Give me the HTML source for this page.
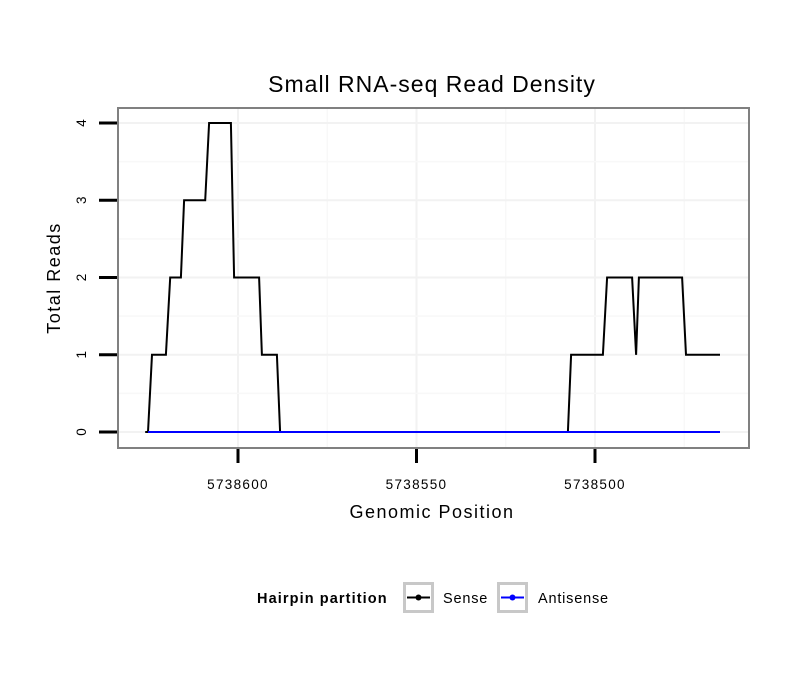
<!DOCTYPE html>
<html><head><meta charset="utf-8"><style>
body{margin:0;background:#fff;}
svg{display:block;font-family:"Liberation Sans",Arial,sans-serif;}
</style></head><body>
<svg id="chart" width="810" height="690" viewBox="0 0 810 690">
<text x="432" y="92" font-size="23" letter-spacing="1" text-anchor="middle">Small RNA-seq Read Density</text>
<rect x="118" y="108" width="631" height="340" fill="#fff"/>
<g id="grid"></g>
<g id="series"></g>
<rect x="118" y="108" width="631" height="340" fill="none" stroke="#808080" stroke-width="2"/>
<g id="axes"></g>
<text x="432" y="518" font-size="18" letter-spacing="1.5" text-anchor="middle">Genomic Position</text>
<text transform="translate(60,278) rotate(-90)" font-size="18" letter-spacing="1.5" text-anchor="middle">Total Reads</text>
<g>
<text x="257" y="603" font-size="14.5" letter-spacing="1.1" font-weight="bold">Hairpin partition</text>
<g>
<rect x="404.5" y="583.5" width="28" height="28" fill="#fff" stroke="#c8c8c8" stroke-width="3"/>
<line x1="407" y1="597.5" x2="430" y2="597.5" stroke="#000" stroke-width="2"/>
<circle cx="418.5" cy="597.5" r="3" fill="#000"/>
<text x="443" y="603" font-size="14.5" letter-spacing="0.8">Sense</text>
</g>
<g>
<rect x="498.5" y="583.5" width="28" height="28" fill="#fff" stroke="#c8c8c8" stroke-width="3"/>
<line x1="501" y1="597.5" x2="524" y2="597.5" stroke="#0000ff" stroke-width="2"/>
<circle cx="512.5" cy="597.5" r="3" fill="#0000ff"/>
<text x="538" y="603" font-size="14.5" letter-spacing="0.8">Antisense</text>
</g>
</g>
</svg>
<script>
const BASE = 5738000;
const senseX = [626.0,625.2,624.1,620.2,619.0,616.0,615.1,609.2,608.1,602.0,601.1,594.1,593.3,589.1,588.2,507.6,506.7,497.8,496.6,489.6,488.5,487.7,475.6,474.5,465.0];
const senseY = [0,0,1,1,2,2,3,3,4,4,2,2,1,1,0,0,1,1,2,2,1,2,2,1,1];
const antiX = [625.2,465.0];
const antiY = [0,0];
const xTicks = [600,550,500];
const xTickLabels = ["5738600","5738550","5738500"];
const yTicks = [0,1,2,3,4];
const yTickLabels = ["0","1","2","3","4"];

const NS = "http://www.w3.org/2000/svg";
function xs(v){ return 238 + (600 - v) * 3.57; }
function ys(v){ return 432 - v * 77.25; }
function mk(tag, attrs, parent){
  const e = document.createElementNS(NS, tag);
  for (const k in attrs) e.setAttribute(k, attrs[k]);
  parent.appendChild(e); return e;
}
const grid = document.getElementById('grid');
const axes = document.getElementById('axes');
const series = document.getElementById('series');
for (let i = 0; i < xTicks.length; i++) {
  const g1 = mk('line', {x1:xs(xTicks[i]), x2:xs(xTicks[i]), y1:109, y2:447, stroke:'#f2f2f2', 'stroke-width':2}, grid);
  
  
  const m = xTicks[i] - 25;
  const g2 = mk('line', {x1:xs(m), x2:xs(m), y1:109, y2:447, stroke:'#f8f8f8', 'stroke-width':1.5}, grid);
  
  
}
for (let i = 0; i < yTicks.length; i++) {
  const g1 = mk('line', {x1:119, x2:748, y1:ys(yTicks[i]), y2:ys(yTicks[i]), stroke:'#f2f2f2', 'stroke-width':2}, grid);
  
  
  if (i < yTicks.length - 1) {
    const m = yTicks[i] + 0.5;
    const g2 = mk('line', {x1:119, x2:748, y1:ys(m), y2:ys(m), stroke:'#f8f8f8', 'stroke-width':1.5}, grid);
    
    
  }
}
for (let i = 0; i < xTicks.length; i++) {
  const t = mk('line', {x1:xs(xTicks[i]), x2:xs(xTicks[i]), y1:449, y2:463, stroke:'#000', 'stroke-width':3}, axes);
  
  
  const l = mk('text', {x:xs(xTicks[i]), y:489, 'font-size':13.5, 'letter-spacing':1.3, 'text-anchor':'middle'}, axes);
  l.textContent = xTickLabels[i];
  
  
}
for (let i = 0; i < yTicks.length; i++) {
  const t = mk('line', {x1:99, x2:117, y1:ys(yTicks[i]), y2:ys(yTicks[i]), stroke:'#000', 'stroke-width':3}, axes);
  
  
  const l = mk('text', {transform:'translate(86,' + ys(yTicks[i]) + ') rotate(-90)', 'font-size':13.5, 'text-anchor':'middle'}, axes);
  l.textContent = yTickLabels[i];
  
  
}
function path(X, Y){ return X.map((v,i)=>(i?'L':'M')+xs(v).toFixed(1)+','+ys(Y[i]).toFixed(1)).join(''); }
const ps = mk('path', {d:path(senseX, senseY), fill:'none', stroke:'#000', 'stroke-width':2}, series);


const pa = mk('path', {d:path(antiX, antiY), fill:'none', stroke:'#0000ff', 'stroke-width':2}, series);


</script>
</body></html>
